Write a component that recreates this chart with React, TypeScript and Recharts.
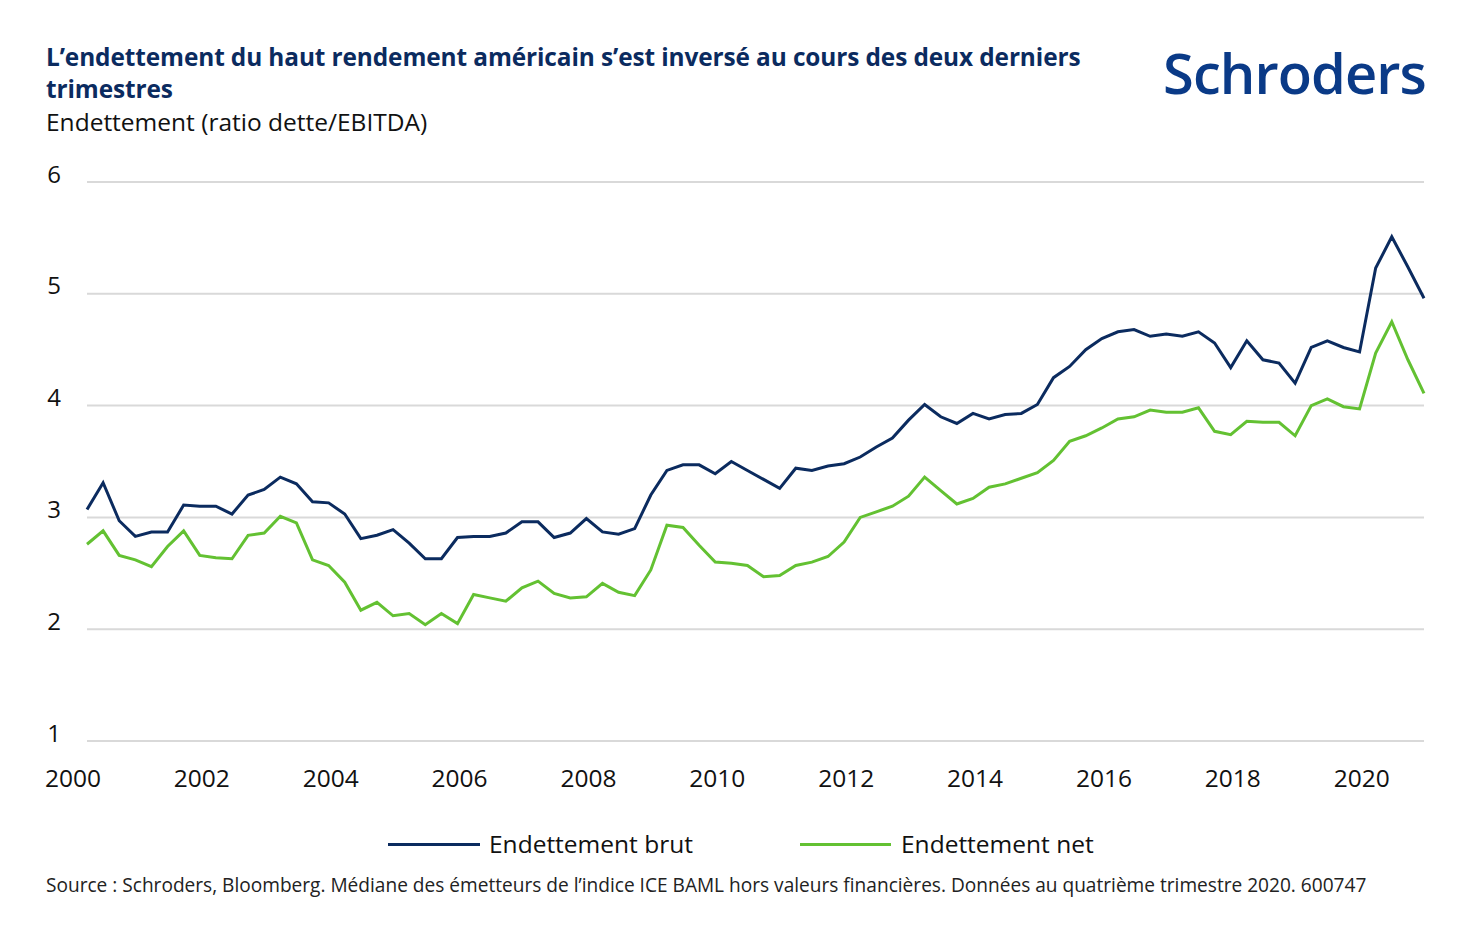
import React from 'react';
import { LineChart, Line, XAxis, YAxis, CartesianGrid } from 'recharts';

const firstYear = 2000;
const grossLeverage = [
  3.07, 3.31, 2.97, 2.83, 2.87, 2.87, 3.11, 3.10, 3.10, 3.03,
  3.20, 3.25, 3.36, 3.30, 3.14, 3.13, 3.03, 2.81, 2.84, 2.89,
  2.77, 2.63, 2.63, 2.82, 2.83, 2.83, 2.86, 2.96, 2.96, 2.82,
  2.86, 2.99, 2.87, 2.85, 2.90, 3.20, 3.42, 3.47, 3.47, 3.39,
  3.50, 3.42, 3.34, 3.26, 3.44, 3.42, 3.46, 3.48, 3.54, 3.63,
  3.71, 3.87, 4.01, 3.90, 3.84, 3.93, 3.88, 3.92, 3.93, 4.01,
  4.25, 4.35, 4.50, 4.60, 4.66, 4.68, 4.62, 4.64, 4.62, 4.66,
  4.56, 4.34, 4.58, 4.41, 4.38, 4.20, 4.52, 4.58, 4.52, 4.48,
  5.23, 5.51, 5.24, 4.96,
];
const netLeverage = [
  2.76, 2.88, 2.66, 2.62, 2.56, 2.74, 2.88, 2.66, 2.64, 2.63,
  2.84, 2.86, 3.01, 2.95, 2.62, 2.57, 2.42, 2.17, 2.24, 2.12,
  2.14, 2.04, 2.14, 2.05, 2.31, 2.28, 2.25, 2.37, 2.43, 2.32,
  2.28, 2.29, 2.41, 2.33, 2.30, 2.53, 2.93, 2.91, 2.75, 2.60,
  2.59, 2.57, 2.47, 2.48, 2.57, 2.60, 2.65, 2.78, 3.00, 3.05,
  3.10, 3.19, 3.36, 3.24, 3.12, 3.17, 3.27, 3.30, 3.35, 3.40,
  3.51, 3.68, 3.73, 3.80, 3.88, 3.90, 3.96, 3.94, 3.94, 3.98,
  3.77, 3.74, 3.86, 3.85, 3.85, 3.73, 4.00, 4.06, 3.99, 3.97,
  4.47, 4.75, 4.41, 4.11,
];
const yearTicks = [2000, 2002, 2004, 2006, 2008, 2010, 2012, 2014, 2016, 2018, 2020];
const valueTicks = [1, 2, 3, 4, 5, 6];

const data = grossLeverage.map((g, i) => ({
  t: firstYear + i / 4,
  brut: g,
  net: netLeverage[i],
}));

const NAVY = '#0b2b5f';
const GREEN = '#63c132';
const FONT = '"Open Sans", "Noto Sans", sans-serif';

const YTick = (props: any) => {
  const { x, y, payload } = props;
  return (
    <text x={x} y={y} dy={-9} textAnchor="end" dominantBaseline="central"
      fontFamily={FONT} fontSize={24} fill="#111">
      {payload.value}
    </text>
  );
};

const XTick = (props: any) => {
  const { x, y, payload } = props;
  return (
    <text x={x} y={y} dx={-14} dy={28} textAnchor="middle" dominantBaseline="central"
      fontFamily={FONT} fontSize={24.5} fill="#111">
      {payload.value}
    </text>
  );
};

export default function App() {
  return (
    <div style={{ position: 'absolute', left: 0, top: 0, width: 1475, height: 935, background: '#fff', fontFamily: FONT }}>
      <div style={{ position: 'absolute', left: 46, top: 41, width: 1100, fontSize: 24.4, fontWeight: 700, color: NAVY, lineHeight: '32px', letterSpacing: -0.1 }}>
        L’endettement du haut rendement américain s’est inversé au cours des deux derniers trimestres
      </div>
      <div style={{ position: 'absolute', left: 46, top: 105, fontSize: 24.5, color: '#111', lineHeight: '34px' }}>
        Endettement (ratio dette/EBITDA)
      </div>
      <div style={{ position: 'absolute', left: 1163, top: 32, fontSize: 56, fontWeight: 600, color: '#0a3a87', lineHeight: '80px', letterSpacing: -0.9, whiteSpace: 'nowrap' }}>
        Schroders
      </div>
      <div style={{ position: 'absolute', left: 0, top: 0 }}>
        <LineChart width={1475} height={935} data={data}
          margin={{ top: 182, right: 51, bottom: 134, left: 47 }}>
          <CartesianGrid vertical={false} stroke="#d9d9d9" strokeWidth={2} />
          <XAxis dataKey="t" type="number" domain={[2000, 2020.75]} ticks={yearTicks}
            axisLine={false} tickLine={false} height={60} tick={<XTick />} interval={0} />
          <YAxis type="number" domain={[1, 6]} ticks={valueTicks} axisLine={false} tickLine={false}
            width={40} tickMargin={20} tick={<YTick />} interval={0} />
          <Line type="linear" dataKey="brut" stroke={NAVY} strokeWidth={3} dot={false} isAnimationActive={false} />
          <Line type="linear" dataKey="net" stroke={GREEN} strokeWidth={3} dot={false} isAnimationActive={false} />
        </LineChart>
      </div>
      <div style={{ position: 'absolute', left: 388, top: 827, display: 'flex', alignItems: 'center', fontSize: 24.5, color: '#111', lineHeight: '34px' }}>
        <span style={{ display: 'inline-block', width: 92, height: 3, background: NAVY, marginRight: 9 }} />
        <span>Endettement brut</span>
      </div>
      <div style={{ position: 'absolute', left: 800, top: 827, display: 'flex', alignItems: 'center', fontSize: 24.5, color: '#111', lineHeight: '34px' }}>
        <span style={{ display: 'inline-block', width: 91, height: 3, background: GREEN, marginRight: 10 }} />
        <span>Endettement net</span>
      </div>
      <div style={{ position: 'absolute', left: 46, top: 872, fontSize: 19.1, color: '#222', lineHeight: '26px', whiteSpace: 'nowrap' }}>
        Source : Schroders, Bloomberg. Médiane des émetteurs de l’indice ICE BAML hors valeurs financières. Données au quatrième trimestre 2020. 600747
      </div>
    </div>
  );
}
